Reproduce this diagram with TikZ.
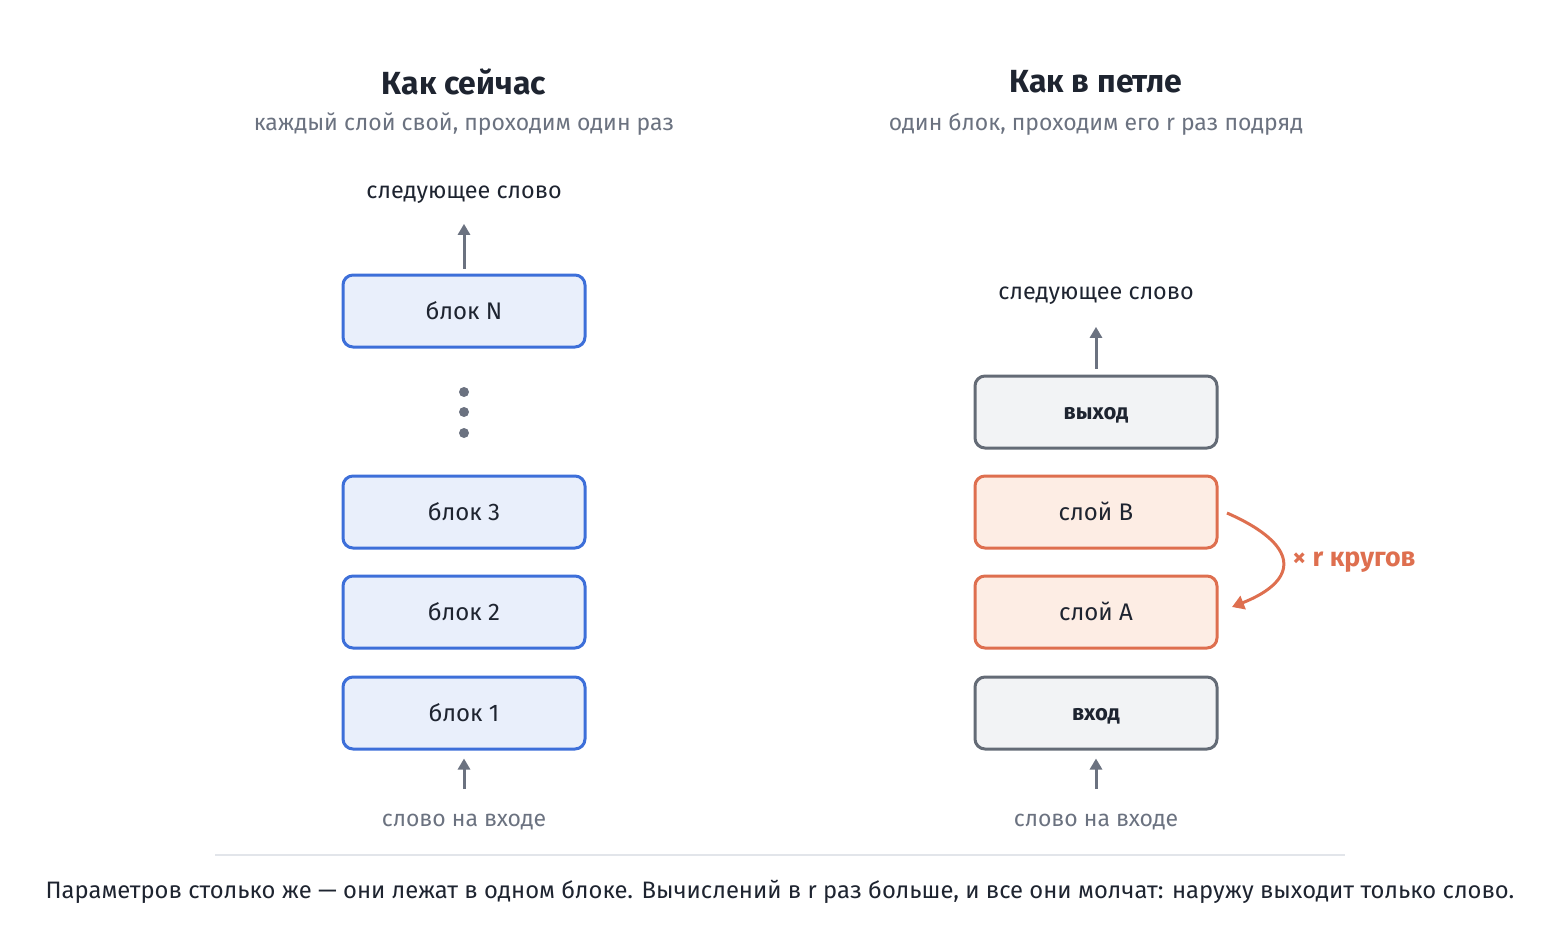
\documentclass[tikz,border=0pt]{standalone}
\usepackage{fontspec}
\setmainfont{Fira Sans}
\usetikzlibrary{arrows.meta}

\begin{document}
\begin{tikzpicture}[x=0.5pt,y=-0.5pt,
  box/.style={draw,rounded corners=5pt,line width=1.5pt,minimum width=121pt,minimum height=36pt,text=ink,text height=9pt,text depth=1pt,font=\fontsize{12}{14}\selectfont},
  blockbox/.style={box,draw=blueline,fill=bluefill},
  layerbox/.style={box,draw=redline,fill=redfill},
  iobox/.style={box,draw=grayline,fill=grayfill,text height=8pt,font=\fontsize{11}{14}\selectfont\bfseries},
  title/.style={text=ink,font=\fontsize{16}{19}\selectfont\bfseries},
  subtitle/.style={text=muted,font=\fontsize{11.5}{14}\selectfont},
  wordlabel/.style={text=ink,font=\fontsize{11.7}{14}\selectfont},
  uparrow/.style={draw=muted,line width=1.5pt,-{Triangle[length=5.5pt,width=6pt]}}]
\definecolor{ink}{HTML}{1E2430}
\definecolor{muted}{HTML}{6B7280}
\definecolor{blueline}{HTML}{3D6FD9}
\definecolor{bluefill}{HTML}{E9EFFB}
\definecolor{redline}{HTML}{DE6F4F}
\definecolor{redfill}{HTML}{FDEDE4}
\definecolor{grayline}{HTML}{646B76}
\definecolor{grayfill}{HTML}{F2F3F5}
\definecolor{rule}{HTML}{E2E5EA}
\useasboundingbox (0,0) rectangle (1560,947);

\node[title] (ttlL) at (464,82) {Как сейчас};
\node[subtitle] (subL) at (464,124) {каждый слой свой, проходим один раз};
\node[title] (ttlR) at (1096,82) {Как в петле};
\node[subtitle] (subR) at (1096,124) {один блок, проходим его r раз подряд};

\foreach \nm/\txt/\yy in {blkN/блок N/311,blk3/блок 3/512,blk2/блок 2/612,blk1/блок 1/713}
  {\node[blockbox] (\nm) at (464,\yy) {\txt};}
\foreach \yy in {392,412,433}
  {\fill[muted] (464,\yy) circle (2.5pt);}

\foreach \nm/\txt/\sty/\yy in {outB/выход/iobox/412,layB/слой B/layerbox/512,layA/слой A/layerbox/612,inB/вход/iobox/713}
  {\node[\sty] (\nm) at (1096,\yy) {\txt};}

\node[wordlabel] (nextL) at (464,195) {следующее слово};
\node[wordlabel] (nextR) at (1096,296) {следующее слово};
\node[subtitle] (inL) at (464,822) {слово на входе};
\node[subtitle] (inR) at (1096,822) {слово на входе};

\draw[uparrow,shorten <=2.5pt,shorten >=6.5pt] (blkN) -- (nextL);
\draw[uparrow,shorten <=3pt,shorten >=7.5pt] (outB) -- (nextR);
\draw[uparrow,shorten <=9pt,shorten >=4pt] (inL) -- (blk1);
\draw[uparrow,shorten <=9pt,shorten >=4pt] (inR) -- (inB);

\coordinate (loopS) at (1227,513);
\coordinate (loopE) at (1232,607);
\draw[redline,line width=1.5pt,-{Triangle[length=6pt,width=7pt]}] (loopS) .. controls (1300,545) and (1300,580) .. (loopE);
\node[text=redline,font=\fontsize{13.4}{16}\selectfont\bfseries,anchor=west,inner sep=0pt] (rounds) at (1292,562) {× r кругов};

\draw[rule,line width=1pt] (215,855) -- (1345,855);
\node[text=ink,font=\fontsize{11.9}{14}\selectfont] (note) at (780,892) {Параметров столько же — они лежат в одном блоке. Вычислений в r раз больше, и все они молчат: наружу выходит только слово.};
\end{tikzpicture}
\end{document}
